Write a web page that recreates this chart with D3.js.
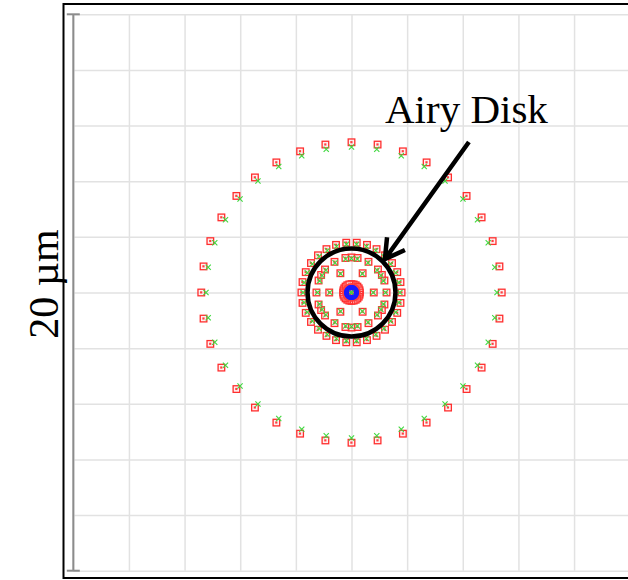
<!DOCTYPE html>
<html>
<head>
<meta charset="utf-8">
<script src="https://cdn.jsdelivr.net/npm/d3@7"></script>
<style>
  body { margin: 0; background: #fff; }
  svg { display: block; }
</style>
</head>
<body>
<svg id="spot"></svg>
<script>
// pupil ring sampling angles (deg, clockwise from +y)
var anglesOuter = [0, 10, 20, 30, 40, 50, 60, 70, 80, 90, 100, 110, 120, 130, 140, 150, 160, 170,
                   180, 190, 200, 210, 220, 230, 240, 250, 260, 270, 280, 290, 300, 310, 320, 330, 340, 350];
var anglesRing30 = [6, 18, 30, 42, 54, 66, 78, 90, 102, 114, 126, 138, 150, 162, 174,
                    186, 198, 210, 222, 234, 246, 258, 270, 282, 294, 306, 318, 330, 342, 354];
var anglesMid = [0, 10, 29, 49, 60, 70, 90, 110, 120, 131, 151, 170,
                 180, 190, 209, 229, 240, 250, 270, 290, 300, 311, 331, 350];
var anglesInner = [30, 90, 150, 210, 270, 330];
var anglesCore = [0, 15, 30, 45, 60, 75, 90, 105, 120, 135, 150, 165,
                  180, 195, 210, 225, 240, 255, 270, 285, 300, 315, 330, 345];
var anglesCore12 = [0, 30, 60, 90, 120, 150, 180, 210, 240, 270, 300, 330];
var anglesCentre = [0];

var ringAngles = [anglesOuter, anglesRing30, anglesMid, anglesInner, anglesCore, anglesCore12, anglesCentre];

// spot radius of each ring, µm (null = no ray of that colour on the ring)
var redRadius   = [5.40, 1.80, 1.26, 0.80, 0.30, 0.16, null];
var greenRadius = [5.23, 1.74, 1.22, 0.78, null, null, 0];
var blueRadius  = [null, null, null, null, 0.18, null, null];

var airyRadius = 1.58;
var gridTicks = [-10, -8, -6, -4, -2, 0, 2, 4, 6, 8, 10];

function spots(radii) {
  var pts = [];
  radii.forEach(function (r, i) {
    if (r === null) return;
    ringAngles[i].forEach(function (a) {
      var t = a * Math.PI / 180;
      pts.push({ x: r * Math.sin(t), y: r * Math.cos(t) });
    });
  });
  return pts;
}

var W = 628, H = 580;
var svg = d3.select("#spot").attr("width", W).attr("height", H);

var x = d3.scaleLinear().domain([-10, 10]).range([73.3, 629.7]);
var y = d3.scaleLinear().domain([-10, 10]).range([570.7, 14.3]);

// frame
svg.append("rect")
  .attr("x", 63.5).attr("y", 4)
  .attr("width", 640).attr("height", 574)
  .attr("fill", "#fff").attr("stroke", "#000").attr("stroke-width", 2);

// grid
var gx = svg.append("g")
  .attr("transform", "translate(0," + y(-10) + ")")
  .call(d3.axisBottom(x).tickValues(gridTicks).tickSize(-(y(-10) - y(10))).tickFormat(""));
var gy = svg.append("g")
  .attr("transform", "translate(" + x(-10) + ",0)")
  .call(d3.axisLeft(y).tickValues(gridTicks).tickSize(-(x(10) - x(-10))).tickFormat(""));
[gx, gy].forEach(function (g) {
  g.select(".domain").remove();
  g.selectAll("line").attr("stroke", "#e2e2e2").attr("stroke-width", 1.5);
});

// scale bar
var bar = svg.append("g").attr("stroke", "#8c8c8c").attr("stroke-width", 2);
bar.append("line").attr("x1", x(-10)).attr("x2", x(-10)).attr("y1", y(10)).attr("y2", y(-10));
bar.append("line").attr("x1", x(-10) - 6.5).attr("x2", x(-10) + 6.5).attr("y1", y(10)).attr("y2", y(10));
bar.append("line").attr("x1", x(-10) - 6.5).attr("x2", x(-10) + 6.5).attr("y1", y(-10)).attr("y2", y(-10));

svg.append("text")
  .attr("transform", "translate(58," + 284 + ") rotate(-90)")
  .attr("text-anchor", "middle")
  .attr("font-family", "'Liberation Serif', 'Times New Roman', serif")
  .attr("font-size", 42)
  .attr("fill", "#000")
  .text("20 µm");

// red spots: small squares
var red = svg.append("g");
red.selectAll("rect.sq")
  .data(spots(redRadius))
  .enter().append("rect")
  .attr("class", "sq")
  .attr("x", d => x(d.x) - 3.3).attr("y", d => y(d.y) - 3.3)
  .attr("width", 6.6).attr("height", 6.6)
  .attr("fill", "#ffe4e4").attr("fill-opacity", 0.55)
  .attr("stroke", "#ff2e2e").attr("stroke-width", 1.3);
red.selectAll("rect.pt")
  .data(spots(redRadius))
  .enter().append("rect")
  .attr("class", "pt")
  .attr("x", d => x(d.x) - 1.2).attr("y", d => y(d.y) - 1.2)
  .attr("width", 2.2).attr("height", 2.2)
  .attr("fill", "#ff4040");

// green spots: crosses
svg.append("g").selectAll("path")
  .data(spots(greenRadius))
  .enter().append("path")
  .attr("d", d => {
    var cx = x(d.x), cy = y(d.y), s = 2.6;
    return "M" + (cx - s) + "," + (cy - s) + "L" + (cx + s) + "," + (cy + s) +
           "M" + (cx - s) + "," + (cy + s) + "L" + (cx + s) + "," + (cy - s);
  })
  .attr("stroke", "#3fd83f").attr("stroke-width", 1.1).attr("fill", "none");

// blue spots
svg.append("g").selectAll("circle")
  .data(spots(blueRadius))
  .enter().append("circle")
  .attr("cx", d => x(d.x)).attr("cy", d => y(d.y))
  .attr("r", 1.8)
  .attr("fill", "none").attr("stroke", "#1a1aff").attr("stroke-width", 1.5);

// chief ray, green
svg.append("path")
  .attr("d", "M" + (x(0) - 2) + "," + (y(0) - 2) + "L" + (x(0) + 2) + "," + (y(0) + 2) +
             "M" + (x(0) - 2) + "," + (y(0) + 2) + "L" + (x(0) + 2) + "," + (y(0) - 2))
  .attr("stroke", "#3fd83f").attr("stroke-width", 1.2);

// airy disk
svg.append("circle")
  .attr("cx", x(0)).attr("cy", y(0))
  .attr("r", x(airyRadius) - x(0))
  .attr("fill", "none").attr("stroke", "#000").attr("stroke-width", 4.5);

// annotation arrow
var tip = [x(1.2), y(1.2)], tail = [x(4.22), y(5.41)];
var dx = tail[0] - tip[0], dy = tail[1] - tip[1], len = Math.sqrt(dx * dx + dy * dy);
var ux = dx / len, uy = dy / len, arm = 22, c = Math.cos(Math.PI / 6), s = Math.sin(Math.PI / 6);
var a1 = [tip[0] + arm * (ux * c - uy * s), tip[1] + arm * (ux * s + uy * c)];
var a2 = [tip[0] + arm * (ux * c + uy * s), tip[1] + arm * (-ux * s + uy * c)];
svg.append("path")
  .attr("d", "M" + tail + "L" + tip + "M" + a1 + "L" + tip + "L" + a2)
  .attr("fill", "none").attr("stroke", "#000").attr("stroke-width", 4.5)
  .attr("stroke-linejoin", "miter");

svg.append("text")
  .attr("x", 385).attr("y", 123)
  .attr("font-family", "'Liberation Serif', 'Times New Roman', serif")
  .attr("font-size", 41)
  .attr("fill", "#000")
  .text("Airy Disk");
</script>
</body>
</html>
